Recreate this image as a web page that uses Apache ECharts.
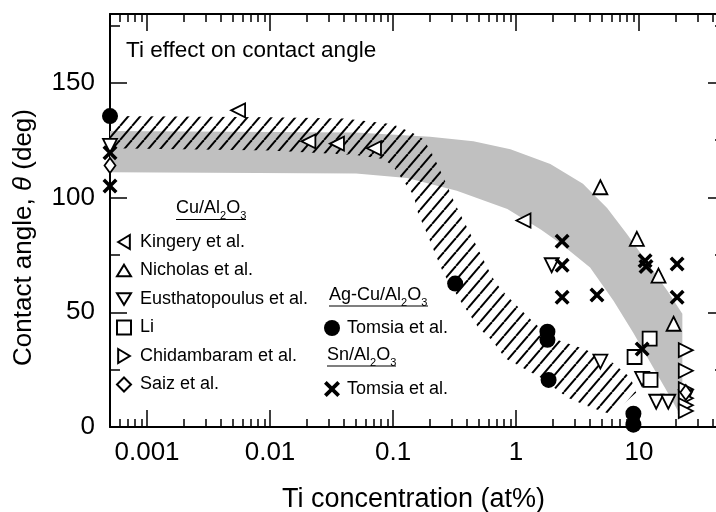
<!DOCTYPE html>
<html>
<head>
<meta charset="utf-8">
<script src="https://cdn.jsdelivr.net/npm/echarts@6/dist/echarts.min.js"></script>
<style>
  html, body { margin: 0; padding: 0; background: #fff; }
  #chart { width: 716px; height: 512px; }
</style>
</head>
<body>
<div id="chart"></div>
<script>
// x = Ti concentration (at%), y = contact angle (deg)
var kingery       = [[0.0055, 138], [0.0205, 124.5], [0.035, 123.5], [0.07, 121.5], [1.15, 90]];
var nicholas      = [[4.85, 104.5], [9.6, 82], [14.4, 66], [19.1, 45]];
var eusthatopoulus = [[0.0005, 122.5], [1.95, 70.5], [4.85, 28.5], [10.6, 21], [13.8, 11], [17.3, 11], [24, 13]];
var li            = [[9.2, 30.5], [12.2, 38.5], [12.4, 20.5]];
var chidambaram   = [[24, 33.5], [24, 24.5], [24, 16.5], [24, 12.5], [24, 9.5], [24, 7]];
var saiz          = [[0.0005, 114], [24, 15]];
var tomsiaAgCu    = [[0.0005, 135.5], [0.32, 62.5], [1.8, 41.5], [1.8, 38], [1.84, 20.5], [9, 5.8], [9, 1]];
var tomsiaSn      = [[0.0005, 119.5], [0.0005, 105], [2.37, 81], [2.37, 70.5], [2.37, 56.5], [4.55, 57.5],
                     [11.2, 72.5], [11.4, 70], [10.6, 34], [20.4, 71], [20.4, 56.5]];

// grey band (Cu/Al2O3 trend)
var greyUpper = [[0.0005, 129], [0.05, 128.3], [0.2, 126.5], [0.45, 124.5], [0.9, 121], [1.9, 114.6],
                 [3.5, 106], [5.5, 95.5], [8, 84], [12.4, 69.6], [17, 59.4], [22.5, 49.4]];
var greyLower = [[0.0005, 111], [0.05, 110.5], [0.13, 108.5], [0.33, 103], [0.85, 95], [1.6, 86],
                 [2.3, 80], [4, 69.5], [6.2, 55], [9, 41], [13, 26], [18, 13], [22.5, 3.5]];
// hatched band (Ag-Cu/Al2O3 trend)
var hatchUpper = [[0.0005, 135.5], [0.01, 135], [0.04, 134.5], [0.1, 132], [0.146, 128], [0.176, 125.5],
                  [0.209, 119], [0.243, 111.6], [0.276, 105], [0.321, 97], [0.387, 88.5], [0.467, 80],
                  [0.585, 69.4], [0.68, 63], [0.85, 57], [1.31, 47], [1.9, 39], [3.3, 34.6], [5.5, 30],
                  [8.5, 21.6], [9.5, 15]];
var hatchLower = [[0.0005, 121.5], [0.01, 120.5], [0.05, 118.5], [0.083, 116.8], [0.1, 113.7], [0.126, 106],
                  [0.147, 101], [0.16, 93], [0.19, 84], [0.22, 75.5], [0.257, 67], [0.352, 55], [0.494, 43.4],
                  [0.64, 37.7], [0.82, 29.9], [1.58, 21.6], [2.61, 12.9], [4, 8.6], [6, 5.5]];

var xLabels = [0.001, 0.01, 0.1, 1, 10];
var yLabels = [0, 50, 100, 150];

var FONT = 'Liberation Sans, Arial, sans-serif';
var myChart = echarts.init(document.getElementById('chart'));

// diagonal hatch tile
var hatch = document.createElement('canvas');
hatch.width = 12; hatch.height = 14;
var hctx = hatch.getContext('2d');
hctx.strokeStyle = '#000';
hctx.lineWidth = 2;
[-12, 0, 12].forEach(function (dx) {
    hctx.beginPath();
    hctx.moveTo(dx, 14);
    hctx.lineTo(dx + 12, 0);
    hctx.stroke();
});

function band(upper, lower, fill) {
    var pts = upper.concat(lower.slice().reverse());
    return {
        type: 'custom',
        silent: true,
        clip: true,
        z: 1,
        encode: { x: 0, y: 1 },
        data: pts,
        renderItem: function (params, api) {
            if (params.dataIndex !== 0) return null;
            return {
                type: 'polygon',
                shape: { points: pts.map(function (p) { return api.coord(p); }) },
                style: { fill: fill, stroke: null }
            };
        }
    };
}

var X_PATH = 'path://M2,0 L6,4 L10,0 L12,2 L8,6 L12,10 L10,12 L6,8 L2,12 L0,10 L4,6 L0,2 Z';
var TRI_LEFT = 'path://M0,6 L10,0 L10,12 Z';
var TRI_UP = 'path://M6,0 L12,10 L0,10 Z';
var TRI_DOWN = 'path://M0,0 L12,0 L6,10 Z';
var TRI_RIGHT = 'path://M0,0 L10,6 L0,12 Z';
var openStyle = { color: '#fff', borderColor: '#000', borderWidth: 1.8, opacity: 1 };
var solidStyle = { color: '#000', opacity: 1 };

function marks(name, data, symbol, size, rotate, style) {
    return {
        name: name, type: 'scatter', z: 5,
        symbol: symbol, symbolSize: size, symbolRotate: rotate || 0,
        itemStyle: style, data: data
    };
}

function isPow10(v) {
    return xLabels.indexOf(+(+v).toPrecision(6)) >= 0;
}

function xAxisOpt(position, withLabels) {
    return {
        type: 'log', logBase: 10, min: 0.0005, max: 50,
        position: position,
        name: withLabels ? 'Ti concentration (at%)' : '',
        nameLocation: 'middle', nameGap: 59,
        nameTextStyle: { fontSize: 27, color: '#000', fontFamily: FONT, padding: [0, 8, 0, 0] },
        axisLine: { show: true, onZero: false, lineStyle: { color: '#000', width: 2 } },
        axisTick: { show: true, inside: true, length: 17, lineStyle: { color: '#000', width: 1.5 } },
        minorTick: { show: true, splitNumber: 9, length: 8, lineStyle: { color: '#000', width: 1.5 } },
        axisLabel: {
            show: withLabels, inside: false,
            fontSize: 26, color: '#000', margin: 13, fontFamily: FONT,
            formatter: function (v) { return isPow10(v) ? String(+(+v).toPrecision(6)) : ''; }
        },
        splitLine: { show: false },
        minorSplitLine: { show: false }
    };
}

function yAxisOpt(position, withLabels) {
    return {
        type: 'value', min: 0, max: 180, interval: 50,
        position: position,
        name: withLabels ? 'Contact angle, {i|θ} (deg)' : '',
        nameLocation: 'middle', nameGap: 73,
        nameTextStyle: {
            fontSize: 26, color: '#000', fontFamily: FONT, padding: [0, 34, 0, 0],
            rich: { i: { fontSize: 26, fontStyle: 'italic', fontFamily: FONT, color: '#000' } }
        },
        axisLine: { show: true, onZero: false, lineStyle: { color: '#000', width: 2 } },
        axisTick: { show: true, inside: true, length: 17, lineStyle: { color: '#000', width: 1.5 } },
        minorTick: { show: true, splitNumber: 2, length: 10, lineStyle: { color: '#000', width: 1.5 } },
        axisLabel: {
            show: withLabels, inside: false,
            fontSize: 26, color: '#000', margin: 15, fontFamily: FONT,
            formatter: function (v) { return yLabels.indexOf(v) >= 0 ? String(v) : ''; }
        },
        splitLine: { show: false }
    };
}

var tomsiaName = function (n) { return n.replace(/ \(.*\)$/, ''); };

var option = {
    animation: false,
    textStyle: { fontFamily: FONT },
    title: {
        text: 'Ti effect on contact angle',
        left: 126, top: 39, padding: 0,
        textStyle: { fontSize: 22.5, fontWeight: 'normal', color: '#000', fontFamily: FONT }
    },
    grid: { left: 110, right: -9, top: 14, bottom: 85, outerBoundsMode: 'none', containLabel: false },
    xAxis: [xAxisOpt('bottom', true), xAxisOpt('top', false)],
    yAxis: [yAxisOpt('left', true), yAxisOpt('right', false)],
    legend: [{
        orient: 'vertical', left: 116, top: 233, padding: 0,
        itemWidth: 14, itemHeight: 14, itemGap: 10.5, selectedMode: false,
        textStyle: { fontSize: 18, color: '#000', fontFamily: FONT, padding: [0, 0, 0, 4] },
        data: [
            { name: 'Kingery et al.', icon: TRI_LEFT },
            { name: 'Nicholas et al.', icon: TRI_UP },
            { name: 'Eusthatopoulus et al.', icon: TRI_DOWN },
            { name: 'Li', icon: 'rect' },
            { name: 'Chidambaram et al.', icon: TRI_RIGHT },
            { name: 'Saiz et al.', icon: 'diamond' }
        ]
    }, {
        left: 324, top: 319, padding: 0, itemWidth: 16, itemHeight: 16, selectedMode: false,
        textStyle: { fontSize: 18, color: '#000', fontFamily: FONT, padding: [0, 0, 0, 2] },
        formatter: tomsiaName,
        data: ['Tomsia et al. (Ag-Cu)']
    }, {
        left: 324, top: 380, padding: 0, itemWidth: 16, itemHeight: 16, selectedMode: false,
        textStyle: { fontSize: 18, color: '#000', fontFamily: FONT, padding: [0, 0, 0, 2] },
        formatter: tomsiaName,
        data: ['Tomsia et al. (Sn)']
    }],
    graphic: [
        { type: 'text', left: 176, top: 199, style: { text: '{n|Cu/Al}{s|2}{n|O}{s|3}', rich: heading() } },
        { type: 'line', shape: { x1: 176, y1: 219.5, x2: 246, y2: 219.5 }, style: { stroke: '#000', lineWidth: 1.2 } },
        { type: 'text', left: 329, top: 286, style: { text: '{n|Ag-Cu/Al}{s|2}{n|O}{s|3}', rich: heading() } },
        { type: 'line', shape: { x1: 329, y1: 306, x2: 428, y2: 306 }, style: { stroke: '#000', lineWidth: 1.2 } },
        { type: 'text', left: 327, top: 346, style: { text: '{n|Sn/Al}{s|2}{n|O}{s|3}', rich: heading() } },
        { type: 'line', shape: { x1: 327, y1: 366, x2: 396, y2: 366 }, style: { stroke: '#000', lineWidth: 1.2 } }
    ],
    series: [
        band(greyUpper, greyLower, '#c0c0c0'),
        band(hatchUpper, hatchLower, { image: hatch, repeat: 'repeat' }),
        marks('Kingery et al.', kingery, 'triangle', 14, 90, openStyle),
        marks('Nicholas et al.', nicholas, 'triangle', 14, 0, openStyle),
        marks('Eusthatopoulus et al.', eusthatopoulus, 'triangle', 14, 180, openStyle),
        marks('Li', li, 'rect', 14, 0, openStyle),
        marks('Chidambaram et al.', chidambaram, 'triangle', 14, -90, openStyle),
        marks('Saiz et al.', saiz, 'diamond', [11, 15], 0, openStyle),
        marks('Tomsia et al. (Ag-Cu)', tomsiaAgCu, 'circle', 16, 0, solidStyle),
        marks('Tomsia et al. (Sn)', tomsiaSn, X_PATH, 15, 0, solidStyle)
    ]
};

function heading() {
    return {
        n: { fontSize: 18, lineHeight: 22, verticalAlign: 'top', fontFamily: FONT, color: '#000' },
        s: { fontSize: 11, lineHeight: 11, verticalAlign: 'bottom', fontFamily: FONT, color: '#000' }
    };
}

myChart.setOption(option);
</script>
</body>
</html>
